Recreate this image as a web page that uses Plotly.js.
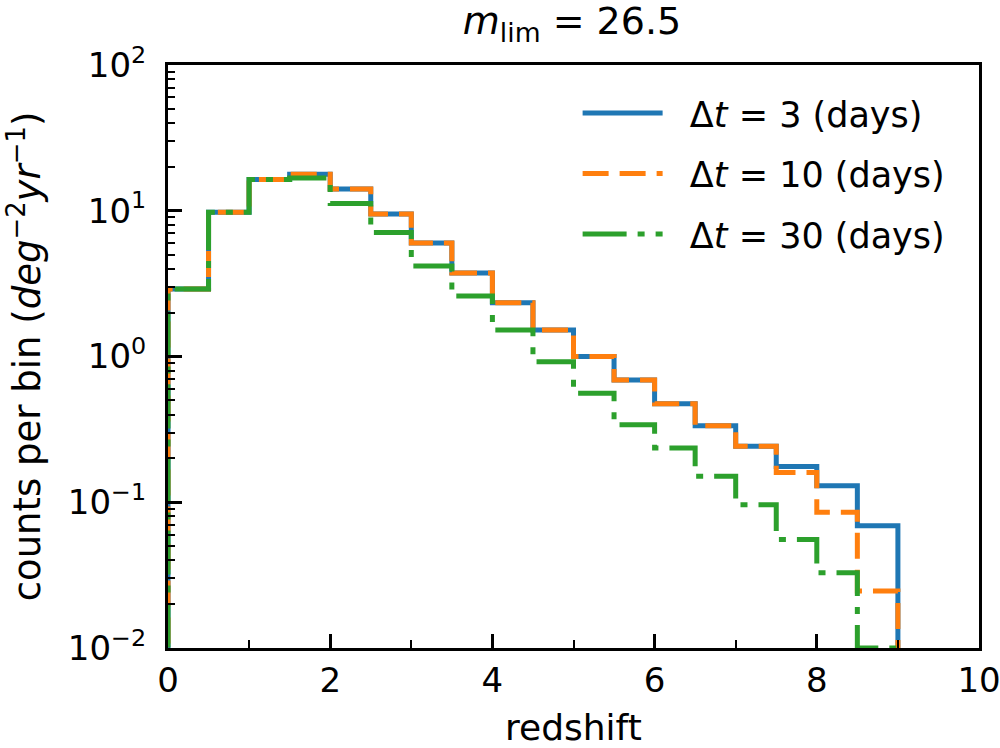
<!DOCTYPE html>
<html>
<head>
<meta charset="utf-8">
<script src="https://cdn.plot.ly/plotly-3.0.1.min.js"></script>
<style>html,body{margin:0;padding:0;background:#fff;}#chart{width:1000px;height:748px;}</style>
</head>
<body>
<div id="chart"></div>
<script>
// Bin edges (redshift) and counts per bin for each cadence
const binEdges = [0, 0.5, 1, 1.5, 2, 2.5, 3, 3.5, 4, 4.5, 5, 5.5, 6, 6.5, 7, 7.5, 8, 8.5, 9];
const counts3d  = [2.9, 9.75, 16.4, 17.8, 14.1, 9.5, 6.0, 3.74, 2.34, 1.52, 1.0, 0.69, 0.474, 0.335, 0.242, 0.176, 0.13, 0.069];
const counts10d = [2.9, 9.75, 16.4, 17.8, 14.1, 9.5, 6.0, 3.74, 2.34, 1.52, 1.0, 0.69, 0.474, 0.335, 0.242, 0.16, 0.0855, 0.0246];
const counts30d = [2.9, 9.75, 16.4, 16.8, 11.2, 7.1, 4.18, 2.6, 1.52, 0.92, 0.56, 0.34, 0.236, 0.151, 0.096, 0.0556, 0.0328, 0.01];
const seriesNames = ['Δ<i>t</i> = 3 (days)', 'Δ<i>t</i> = 10 (days)', 'Δ<i>t</i> = 30 (days)'];
const yTickVals = [0.01, 0.1, 1, 10, 100];
const yTickText = ['10<sup>−2</sup>', '10<sup>−1</sup>', '10<sup>0</sup>', '10<sup>1</sup>', '10<sup>2</sup>'];
const xTickVals = [0, 2, 4, 6, 8, 10];
const xLabel = 'redshift';
const baseline = 1e-4; // histogram step baseline (below visible range)

function stepTrace(vals, name, color, dash, group) {
  const x = [binEdges[0]].concat(binEdges);
  const y = [baseline].concat(vals, [vals[vals.length - 1]]);
  x.push(binEdges[binEdges.length - 1]);
  y.push(baseline);
  return {
    x: x, y: y, type: 'scatter', mode: 'lines', name: '\u00a0\u00a0' + name,
    legendgroup: group,
    line: {shape: 'hv', color: color, width: 5, dash: dash},
    hoverinfo: 'skip'
  };
}

const data = [
  stepTrace(counts3d, seriesNames[0], '#1f77b4', 'solid', 'a'),
  stepTrace(counts10d, seriesNames[1], '#ff7f0e', '26px,11px', 'b'),
  stepTrace(counts30d, seriesNames[2], '#2ca02c', '44px,11px,7px,11px', 'c')
];

const layout = {
  width: 1000, height: 748,
  margin: {l: 168, r: 21, t: 65, b: 100, pad: 0},
  paper_bgcolor: '#fff', plot_bgcolor: '#fff',
  font: {family: 'DejaVu Sans', color: '#000', size: 34},
  showlegend: true,
  title: {text: '<i>m</i><sub>lim</sub> = 26.5', font: {family: 'DejaVu Sans', size: 38, color: '#000'},
          x: 0.572, xanchor: 'center', y: 0.954, yanchor: 'bottom'},
  xaxis: {
    type: 'linear', range: [0, 10], tickmode: 'array', tickvals: xTickVals,
    ticks: 'inside', ticklen: 14, tickwidth: 3, tickcolor: '#000',
    showline: true, linewidth: 3, linecolor: '#000', mirror: true,
    showgrid: false, zeroline: false,
    tickfont: {family: 'DejaVu Sans', size: 34, color: '#000'},
    ticklabelstandoff: 0, ticklabeloverflow: 'allow',
    minor: {ticks: 'inside', ticklen: 8, tickwidth: 2, tickcolor: '#000', tickmode: 'linear', tick0: 0, dtick: 1, showgrid: false},
    automargin: false
  },
  yaxis: {
    type: 'log', range: [-2, 2], tickmode: 'array', tickvals: yTickVals, ticktext: yTickText,
    ticks: 'inside', ticklen: 14, tickwidth: 3, tickcolor: '#000',
    showline: true, linewidth: 3, linecolor: '#000', mirror: true,
    showgrid: false, zeroline: false,
    tickfont: {family: 'DejaVu Sans', size: 34, color: '#000'},
    ticklabelstandoff: 12, ticklabeloverflow: 'allow',
    minor: {ticks: 'inside', ticklen: 7, tickwidth: 2, tickcolor: '#000', dtick: 'D1', showgrid: false},
    title: {text: 'counts per bin (<i>deg</i><sup>−2</sup><i>yr</i><sup>−1</sup>)', font: {family: 'DejaVu Sans', size: 37, color: '#000'}, standoff: 16},
    automargin: false
  },
  annotations: [{
    text: xLabel, xref: 'paper', yref: 'paper', x: 0.5, y: 0,
    xanchor: 'center', yanchor: 'top', yshift: -57, showarrow: false,
    font: {family: 'DejaVu Sans', size: 36, color: '#000'}
  }],
  legend: {
    x: 0.965, xanchor: 'right', y: 0.968, yanchor: 'top',
    bgcolor: 'rgba(0,0,0,0)', borderwidth: 0,
    font: {family: 'DejaVu Sans', size: 35, color: '#000'},
    traceorder: 'grouped', tracegroupgap: 12, itemwidth: 80
  }
};

Plotly.newPlot('chart', data, layout, {staticPlot: true, displayModeBar: false});
</script>
</body>
</html>
